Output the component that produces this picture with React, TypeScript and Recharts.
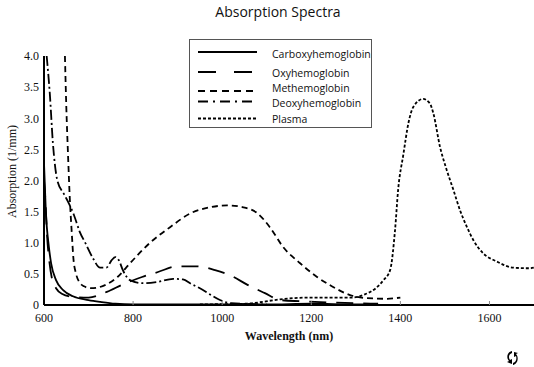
import React from 'react';
import { LineChart, Line, XAxis, YAxis } from 'recharts';

// ---- data (wavelength in nm, absorption in 1/mm) ----
const carboxyWavelengths = [600, 604, 611, 616, 627, 643, 665, 700, 726, 760, 800, 900, 1000, 1100, 1200, 1300, 1350];
const carboxyValues = [2.28, 1.52, 0.93, 0.67, 0.4, 0.24, 0.14, 0.08, 0.05, 0.02, 0.01, 0.01, 0.01, 0.01, 0.02, 0.01, 0.01];

const oxyWavelengths = [600, 603, 607, 612, 618, 627, 640, 665, 700, 741, 777, 820, 856, 899, 943, 984, 1017, 1058, 1096, 1130, 1175, 1250, 1350];
const oxyValues = [2.0, 1.7, 1.1, 0.7, 0.42, 0.27, 0.18, 0.13, 0.12, 0.21, 0.33, 0.45, 0.53, 0.62, 0.62, 0.56, 0.48, 0.32, 0.19, 0.08, 0.06, 0.04, 0.02];

const methWavelengths = [647, 650, 654, 658, 662, 666, 672, 680, 690, 705, 720, 740, 765, 793, 838, 883, 928, 973, 1011, 1047, 1078, 1107, 1137, 1175, 1213, 1249, 1287, 1325, 1370, 1400];
const methValues = [4.0, 3.2, 2.4, 1.7, 1.2, 0.75, 0.5, 0.36, 0.3, 0.27, 0.28, 0.33, 0.45, 0.67, 1.0, 1.25, 1.47, 1.57, 1.6, 1.57, 1.48, 1.25, 0.93, 0.67, 0.45, 0.29, 0.16, 0.11, 0.1, 0.12];

const deoxyWavelengths = [606, 613, 620, 630, 645, 656, 667, 680, 694, 710, 726, 740, 752, 760, 768, 777, 793, 822, 854, 890, 912, 930, 950, 975, 995, 1020, 1100];
const deoxyValues = [4.0, 3.4, 2.6, 2.0, 1.78, 1.63, 1.45, 1.18, 0.98, 0.75, 0.6, 0.6, 0.72, 0.77, 0.72, 0.56, 0.4, 0.35, 0.37, 0.42, 0.41, 0.34, 0.27, 0.16, 0.08, 0.03, 0.01];

const plasmaWavelengths = [950, 1050, 1130, 1160, 1200, 1250, 1290, 1320, 1345, 1362, 1377, 1388, 1395, 1407, 1418, 1429, 1451, 1466, 1474, 1489, 1504, 1519, 1534, 1549, 1564, 1586, 1616, 1653, 1691, 1700];
const plasmaValues = [0.01, 0.02, 0.09, 0.11, 0.12, 0.12, 0.12, 0.17, 0.27, 0.4, 0.56, 1.2, 1.85, 2.43, 2.92, 3.18, 3.31, 3.24, 3.08, 2.54, 2.17, 1.85, 1.52, 1.26, 1.04, 0.83, 0.7, 0.6, 0.59, 0.6];

const seriesNames = ['Carboxyhemoglobin', 'Oxyhemoglobin', 'Methemoglobin', 'Deoxyhemoglobin', 'Plasma'];
const xTicks = [600, 800, 1000, 1200, 1400, 1600];
const yTicks = [0, 0.5, 1, 1.5, 2, 2.5, 3, 3.5, 4];

const toPoints = (w: number[], v: number[]) => w.map((x, i) => ({ w: x, v: v[i] }));

const series = [
  { name: seriesNames[0], data: toPoints(carboxyWavelengths, carboxyValues), dash: undefined as string | undefined, legendDash: undefined as string | undefined },
  { name: seriesNames[1], data: toPoints(oxyWavelengths, oxyValues), dash: '17 10', legendDash: '18 18' },
  { name: seriesNames[2], data: toPoints(methWavelengths, methValues), dash: '6 4', legendDash: '7 5' },
  { name: seriesNames[3], data: toPoints(deoxyWavelengths, deoxyValues), dash: '10 3 2 3', legendDash: '10 5 2 5' },
  { name: seriesNames[4], data: toPoints(plasmaWavelengths, plasmaValues), dash: '3 2', legendDash: '3 2' },
];

const legendLineY = [52, 72, 91, 101.5, 118.5];
const legendTextY = [54, 73, 88, 103, 119];

const serif = '"Liberation Serif", "Times New Roman", serif';
const sans = '"Open Sans", "Noto Sans", sans-serif';

export default function App() {
  return (
    <div style={{ position: 'absolute', left: 0, top: 0, width: 534, height: 367, background: '#fff' }}>
      <LineChart width={534} height={367} margin={{ top: 56, right: 0, bottom: 32, left: 0 }}>
        <XAxis
          dataKey="w"
          type="number"
          domain={[600, 1700]}
          ticks={xTicks}
          allowDataOverflow
          height={30}
          axisLine={{ stroke: '#000', strokeWidth: 2 }}
          tickLine={{ stroke: '#888', strokeWidth: 1 }}
          tickSize={-4}
          tickMargin={12}
          tick={{ fontFamily: serif, fontSize: 12, fill: '#111' }}
          label={{ value: 'Wavelength (nm)', position: 'bottom', offset: -4, style: { fontFamily: serif, fontSize: 12, fontWeight: 'bold', fill: '#111' } }}
        />
        <YAxis
          type="number"
          domain={[0, 4]}
          ticks={yTicks}
          width={44}
          axisLine={{ stroke: '#000', strokeWidth: 2 }}
          tickLine={false}
          tickSize={0}
          tickMargin={5}
          tickFormatter={(v: number) => (v === 0 ? '0' : v.toFixed(1))}
          tick={{ fontFamily: serif, fontSize: 12, fill: '#111' }}
          label={{
            content: (props: any) => {
              const vb = props.viewBox || { x: 0, y: 56, width: 44, height: 249 };
              const cx = 12;
              const cy = vb.y + vb.height / 2 - 9;
              return (
                <text x={cx} y={cy} transform={`rotate(-90 ${cx} ${cy})`} textAnchor="middle" dominantBaseline="central" fontFamily={serif} fontSize={12} fill="#111">
                  Absorption (1/mm)
                </text>
              );
            },
          }}
        />
        {series.map((s) => (
          <Line
            key={s.name}
            data={s.data}
            dataKey="v"
            name={s.name}
            type="monotone"
            stroke="#000"
            strokeWidth={1.8}
            strokeDasharray={s.dash}
            dot={false}
            activeDot={false}
            isAnimationActive={false}
          />
        ))}
      </LineChart>
      <div style={{ position: 'absolute', left: 0, top: 4, width: 556, textAlign: 'center', fontFamily: sans, fontSize: 14, color: '#111', lineHeight: '16px' }}>
        Absorption Spectra
      </div>
      <svg width={534} height={367} style={{ position: 'absolute', left: 0, top: 0, pointerEvents: 'none' }}>
        <rect x={189.5} y={39.5} width={182} height={88} fill="#fff" stroke="#555" strokeWidth={1} />
        {series.map((s, i) => (
          <g key={s.name}>
            <line x1={198} x2={257} y1={legendLineY[i]} y2={legendLineY[i]} stroke="#000" strokeWidth={1.8} strokeDasharray={s.legendDash} />
            <text x={272} y={legendTextY[i]} dominantBaseline="central" fontFamily={sans} fontSize={10.5} fill="#111">
              {s.name}
            </text>
          </g>
        ))}
        <path d="M512 351 C507 352 506 358 509 361 L507 362 L512 364 L512 359 L510 360 C508 357 509 354 512 353 Z M514 352 L514 357 L516 356 C517 359 516 362 513 363 L513 365 C518 364 519 357 516 354 L518 353 Z" fill="#000" />
      </svg>
    </div>
  );
}
